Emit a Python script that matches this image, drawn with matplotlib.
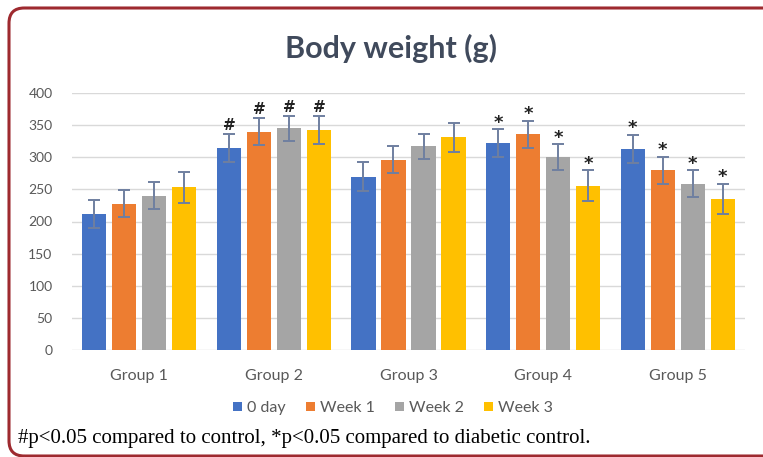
import numpy as np
import matplotlib
matplotlib.use('Agg')
import matplotlib.pyplot as plt
from matplotlib.patches import FancyBboxPatch

# Body weight means and SD per group and time point
groups = ['Group 1', 'Group 2', 'Group 3', 'Group 4', 'Group 5']
series = ['0 day', 'Week 1', 'Week 2', 'Week 3']
day0 = [212, 314, 270, 322, 313]
week1 = [228, 340, 296, 336, 280]
week2 = [240, 345, 317, 300, 259]
week3 = [253, 342, 331, 256, 235]
err_day0 = [22, 22, 22, 22, 22]
err_week1 = [21, 21, 21, 21, 21]
err_week2 = [21, 19, 19, 20, 21]
err_week3 = [24, 22, 23, 24, 24]
# significance marks: '#' vs control, '*' vs diabetic control
marks = ['', '#', '', '*', '*']

values = [day0, week1, week2, week3]
errors = [err_day0, err_week1, err_week2, err_week3]
colors = ['#4472C4', '#ED7D31', '#A5A5A5', '#FFC000']

fig = plt.figure(figsize=(7.63, 4.57), dpi=100)

# rounded frame round the figure
frame = FancyBboxPatch((9 / 763, 1 / 457), 790 / 763, 448 / 457,
                       boxstyle='round,pad=0,rounding_size=0.02',
                       transform=fig.transFigure, fill=False,
                       edgecolor='#9E2A2F', linewidth=2.2, mutation_aspect=1.67)
fig.patches.append(frame)

ax = fig.add_axes([72 / 763, 107 / 457, 673 / 763, 257 / 457])
x = np.arange(len(groups))
pitch = 0.223
width = 0.18
for k in range(4):
    pos = x + (k - 1.5) * pitch
    ax.bar(pos, values[k], width, color=colors[k], label=series[k], zorder=2)
    ax.errorbar(pos, values[k], yerr=errors[k], fmt='none', ecolor='#6F7FA0',
                elinewidth=1.4, capsize=4, capthick=1.4, zorder=3)
    for i in range(len(groups)):
        if marks[i]:
            top = values[k][i] + errors[k][i]
            if marks[i] == '#':
                ax.text(pos[i], top + 1, '#', ha='center', va='bottom',
                        fontsize=11, fontweight='bold', color='#222222')
            else:
                ax.text(pos[i], top - 4, '*', ha='center', va='bottom',
                        fontsize=13, fontweight='bold', color='#222222')

ax.set_xlim(-0.5, 4.5)
ax.set_ylim(0, 400)
ax.set_yticks(range(0, 401, 50))
ax.set_xticks(x)
ax.set_xticklabels(groups)
ax.tick_params(axis='y', length=0, labelsize=10, labelcolor='#595959', pad=14)
ax.tick_params(axis='x', length=0, labelsize=11.5, labelcolor='#595959', pad=14)
for lbl in ax.get_xticklabels() + ax.get_yticklabels():
    lbl.set_family('Lato')
ax.yaxis.grid(True, color='#D9D9D9', linewidth=1, zorder=0)
for s in ax.spines.values():
    s.set_visible(False)

fig.text(0.512, 0.895, 'Body weight (g)', ha='center', va='center',
         fontsize=22, fontweight='bold', color='#404A5C', family='Lato')

fig.legend(loc='center', bbox_to_anchor=(0.515, 49 / 457), ncol=4, frameon=False,
           prop={'family': 'Lato', 'size': 11.5}, handlelength=0.55, handleheight=0.55,
           handletextpad=0.3, columnspacing=1.3, labelcolor='#595959')

fig.text(18 / 763, 19 / 457,
         '#p<0.05 compared to control, *p<0.05 compared to diabetic control.',
         ha='left', va='center', fontsize=15, family='Liberation Serif', color='black')

fig.savefig('out.png', dpi=100)
